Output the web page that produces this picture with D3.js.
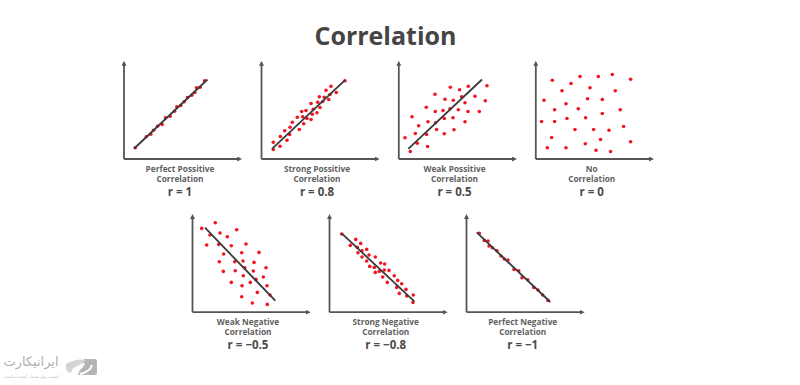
<!DOCTYPE html>
<html>
<head>
<meta charset="utf-8">
<script src="https://cdn.jsdelivr.net/npm/d3@7"></script>
<style>
html,body{margin:0;padding:0;background:#fff;}
svg{display:block;}
text{font-family:"Open Sans",sans-serif;text-anchor:middle;}
.title{font-size:25px;font-weight:700;fill:#454545;}
.name{font-size:8.3px;font-weight:700;fill:#5f5f5f;}
.rval{font-size:11.5px;font-weight:700;fill:#4a4a4a;}
.domain{stroke:#555;stroke-width:1.8;fill:none;}
.fit{stroke:#3a3a3a;stroke-width:1.8;}
.dot{fill:#f01520;}
</style>
</head>
<body>
<svg id="chart" width="800" height="385"></svg>
<script>

var perfectPos = [[11.7,10.7],[22.7,21.7],[27.3,24.3],[30,28.3],[34,32.3],[38.7,34],[42,40.7],[46.7,42.3],[51,47.3],[53.3,51.7],[57.3,53],[60.7,56.7],[64,61],[68.3,63.3],[71.3,66],[73,70.7],[76.7,71.3],[81,77.7]];
var strongPos = [[12.3,16.3],[12.3,9],[19,12.3],[19.3,22],[23.7,27.7],[26,18.3],[28.7,24],[29,31.3],[31.3,36.3],[36.3,41.3],[38.3,29],[40.7,47],[41.7,41.7],[42.7,34.7],[45,48],[46,40],[50,55],[50,39],[51.3,44.3],[52.3,49.3],[56,45.7],[56.7,56.3],[58.3,61.7],[59,51],[61.7,57],[63.3,61.3],[65,68.3],[67.7,59],[69,64],[70,72.3],[75.3,66],[84,77.7]];
var weakPos = [[6.7,20.7],[12,7],[13.7,41.7],[17,25],[19,15.3],[20.3,32.7],[28.3,24],[29.3,12],[29.7,36.7],[28,51.3],[36.7,64.3],[37,47],[37.3,35.7],[38.3,29],[44.7,48],[46,40],[46,24.7],[46.7,59.3],[51.7,49.7],[52,71.3],[54.7,40.7],[55,58.3],[55.7,28.7],[60,48.7],[61.3,68.7],[63.3,61.7],[66.7,55.7],[66.7,36.7],[69.7,47],[70,72.3],[76.7,62.3],[81,47],[87,57.7],[88.7,72.7]];
var noCorr = [[17,78.3],[8.7,58.3],[35.7,75],[44.7,82],[63,82],[77,84],[95.3,79.3],[26.7,67.7],[54.7,70.7],[80,67.7],[30.7,54.7],[52.3,59.7],[67,59],[19.3,48.7],[43,49.7],[85,48.7],[67,45],[6.3,37],[19.3,37],[31.7,40],[50.3,40.7],[39.7,29],[58.3,29],[73.7,28.3],[88.3,32],[16.3,21],[65.3,19],[95.3,16.7],[12,10.7],[30.7,10.7],[50,14.7],[60.7,8.3],[75.3,7]];
var weakNeg = [[9.7,83.3],[23.3,89],[18,76.7],[28,78.7],[35.3,75],[44.7,82],[14.7,66.7],[26.7,67.3],[39.3,66],[54,67.7],[31.7,57.7],[49.7,59],[67,59.3],[27.3,50],[42.7,50],[51,50.7],[62,49.3],[31.3,40.3],[43.3,41],[52.7,44],[61.3,40.7],[74,44],[51.3,36],[64,32.3],[71.3,34.7],[39.3,29.3],[58.3,29.3],[50,26],[75,26],[65.3,19.3],[49.7,15],[78,16.7],[60.3,8.7],[75.3,7.3]];
var strongNeg = [[12.7,77.7],[21.3,66.3],[26.7,72.3],[31.7,68.3],[28.3,64.3],[29,59],[33,61],[37.7,62.3],[33,54.7],[37.7,50.7],[40,56.7],[46.3,54.7],[40.7,45.3],[45.3,44.3],[51.7,48.7],[55.7,47.7],[46.3,39.3],[50.3,40.3],[55.3,41.7],[60,41.3],[53.7,34.7],[58.3,29.3],[65.3,36],[68.7,31.3],[67.7,24.3],[72.7,28],[77,22.3],[70.3,18.3],[77.7,15.7],[84.3,16.7],[84,9.3]];
var perfectNeg = [[13.3,78.3],[18.3,71.3],[22,70.7],[23,65.7],[26.3,64],[31,61],[35,55.7],[38.3,52.7],[42,51.7],[48,42.3],[52.7,41],[56,34],[61.7,32],[67.7,24.3],[72,21.7],[76.7,16.7],[82,11.3]];

var fitPerfectPos = [[10.7,10],[84,79]];
var fitStrongPos = [[11,9.7],[84,78.3]];
var fitWeakPos = [[10,9.7],[83.7,79]];
var fitWeakNeg = [[13,84],[83.3,11]];
var fitStrongNeg = [[12.7,78.3],[85.3,10.3]];
var fitPerfectNeg = [[10.7,79.3],[84.3,9.7]];

var series = [perfectPos, strongPos, weakPos, noCorr, weakNeg, strongNeg, perfectNeg];
var fits = [fitPerfectPos, fitStrongPos, fitWeakPos, null, fitWeakNeg, fitStrongNeg, fitPerfectNeg];
var names = [["Perfect Possitive","Correlation"],["Strong Possitive","Correlation"],["Weak Possitive","Correlation"],["No","Correlation"],["Weak Negative","Correlation"],["Strong Negative","Correlation"],["Perfect Negative","Correlation"]];
var rLabels = ["r = 1","r = 0.8","r = 0.5","r = 0","r = \u22120.5","r = \u22120.8","r = \u22121"];

/// layout
var originX = [123.5,261,398.3,535.3,192,329,466];
var originY = [158.5,158.5,158.5,158.5,311.7,311.7,311.7];
var labelX = [180,317,454.5,591.7,248,385.7,522.7];
var axisW = 114, axisH = 94;

var svg = d3.select("#chart");

svg.append("defs").append("marker")
    .attr("id","arrow")
    .attr("viewBox","0 0 6 6")
    .attr("refX",1).attr("refY",3)
    .attr("markerWidth",5).attr("markerHeight",5)
    .attr("markerUnits","userSpaceOnUse")
    .attr("orient","auto")
  .append("path").attr("d","M0,0L6,3L0,6Z").attr("fill","#555");

svg.append("text").attr("class","title").attr("x",385.5).attr("y",44.5).text("Correlation");

series.forEach(function(pts,i){
    var g = svg.append("g").attr("transform","translate("+originX[i]+","+originY[i]+")");

    var x = d3.scaleLinear().domain([0,axisW]).range([0,axisW]);
    var y = d3.scaleLinear().domain([0,axisH]).range([0,-axisH]);

    /// bare axes, only the domain line is kept
    g.append("g").call(d3.axisBottom(x).tickValues([]).tickSizeOuter(0));
    g.append("g").call(d3.axisLeft(y).tickValues([]).tickSizeOuter(0));
    g.selectAll(".domain").attr("marker-end","url(#arrow)");

    g.selectAll(".dot").data(pts).enter().append("circle")
        .attr("class","dot")
        .attr("cx",function(d){return x(d[0]);})
        .attr("cy",function(d){return y(d[1]);})
        .attr("r",1.8);

    if(fits[i]){
        g.append("line").attr("class","fit")
            .attr("x1",x(fits[i][0][0])).attr("y1",y(fits[i][0][1]))
            .attr("x2",x(fits[i][1][0])).attr("y2",y(fits[i][1][1]));
    }

    /// name is one text with two lines, r value below it
    var name = g.append("text").attr("class","name")
        .attr("transform","translate("+(labelX[i]-originX[i])+",13)");
    name.append("tspan").attr("x",0).attr("y",0).text(names[i][0]);
    name.append("tspan").attr("x",0).attr("dy",10).text(names[i][1]);

    g.append("text").attr("class","rval")
        .attr("x",labelX[i]-originX[i]).attr("y",37.5).text(rLabels[i]);
});

/// watermark, bottom left
var wm = svg.append("g");
wm.append("text").attr("x",31).attr("y",366)
    .style("font-family","'DejaVu Sans',sans-serif").style("font-size","13px").style("fill","#b0b0b0")
    .text("ایرانیکارت");
wm.append("text").attr("x",31).attr("y",378)
    .style("font-family","'DejaVu Sans',sans-serif").style("font-size","4.5px").style("fill","#c4c4c4")
    .text("امنیت پول شما، امنیت ماست");
wm.append("path").attr("d","M84,359L95,359Q97,359 97,361L97,373Q97,375 95,375L78,375Z").attr("fill","#b5b5b5");
wm.append("path").attr("d","M66,364Q76,358 86,360L78,366Q72,367 71,373Q67,372 66,369Z").attr("fill","#d4d4d4");
wm.append("path").attr("d","M72,372Q82,370 84,363").attr("fill","none").attr("stroke","#fff").attr("stroke-width",2);
wm.append("path").attr("d","M80,374Q90,372 92,365").attr("fill","none").attr("stroke","#fff").attr("stroke-width",2);

</script>
</body>
</html>
